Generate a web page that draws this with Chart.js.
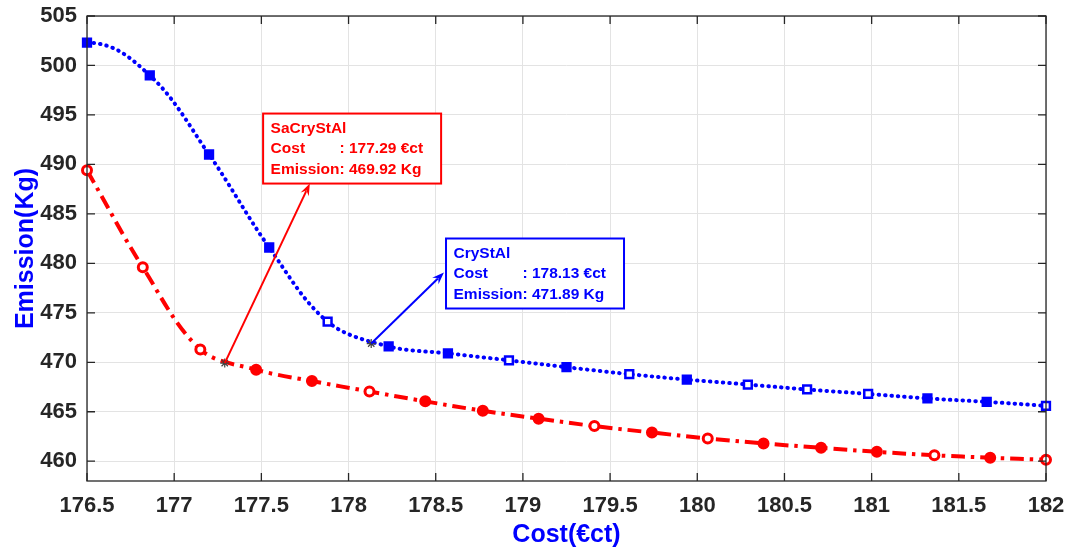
<!DOCTYPE html>
<html>
<head>
<meta charset="utf-8">
<script src="https://cdn.jsdelivr.net/npm/chart.js@4.4.1/dist/chart.umd.min.js"></script>
<style>
  body { margin: 0; background: #fff; }
  #wrap { width: 1081px; height: 553px; }
</style>
</head>
<body>
<div id="wrap"><canvas id="myChart" width="1081" height="553"></canvas></div>
<script>
// Graduations des axes
const costTicks = [176.5, 177, 177.5, 178, 178.5, 179, 179.5, 180, 180.5, 181, 181.5, 182];
const emissionTicks = [460, 465, 470, 475, 480, 485, 490, 495, 500, 505];

// Courbe CryStAl (bleue, carrés)
const crystalCost = [176.5, 176.86, 177.2, 177.545, 177.88, 178.23, 178.57, 178.92, 179.25, 179.61, 179.94, 180.29, 180.63, 180.98, 181.32, 181.66, 182];
const crystalEmission = [502.3, 499.0, 491.0, 481.6, 474.1, 471.6, 470.9, 470.2, 469.5, 468.8, 468.25, 467.75, 467.25, 466.8, 466.35, 466.0, 465.6];

// Courbe SaCryStAl (rouge, cercles)
const sacrystalCost = [176.5, 176.82, 177.15, 177.47, 177.79, 178.12, 178.44, 178.77, 179.09, 179.41, 179.74, 180.06, 180.38, 180.71, 181.03, 181.36, 181.68, 182];
const sacrystalEmission = [489.4, 479.6, 471.3, 469.25, 468.1, 467.05, 466.05, 465.1, 464.3, 463.55, 462.9, 462.3, 461.8, 461.35, 460.95, 460.6, 460.35, 460.15];

// Points repérés (data tips)
const tipNames = ['SaCryStAl', 'CryStAl'];
const tipCost = [177.29, 178.13];
const tipEmission = [469.92, 471.89];

// Marqueurs qui apparaissent creux sur la figure
const blueHollow = [4, 7, 9, 11, 12, 13, 16];
const redHollow = [0, 1, 2, 5, 9, 11, 15, 17];

const BLEU = '#0000ff';
const ROUGE = '#ff0000';
const FONT = 'Liberation Sans, Arial, sans-serif';

// Bulles d'annotation : coin haut-gauche et pointe de flèche en unités des axes
const bulles = [
  { couleur: ROUGE, boite: [177.51, 495.14], pointe: [177.778, 488.07] },
  { couleur: BLEU, boite: [178.559, 482.51], pointe: [178.547, 479.07] }
];

function points(xs, ys) {
  return xs.map((x, i) => ({ x: x, y: ys[i] }));
}

function fleche(ctx, x0, y0, x1, y1) {
  const a = Math.atan2(y1 - y0, x1 - x0);
  const c = Math.cos(a), s = Math.sin(a);
  const L = 12, W = 4.5;
  ctx.beginPath();
  ctx.moveTo(x0, y0);
  ctx.lineTo(x1 - L * 0.7 * c, y1 - L * 0.7 * s);
  ctx.stroke();
  ctx.beginPath();
  ctx.moveTo(x1, y1);
  ctx.lineTo(x1 - L * c + W * s, y1 - L * s - W * c);
  ctx.lineTo(x1 - L * 0.65 * c, y1 - L * 0.65 * s);
  ctx.lineTo(x1 - L * c - W * s, y1 - L * s + W * c);
  ctx.closePath();
  ctx.fill();
}

// Départ horizontal de la courbe bleue (comme sur la figure)
const tangente = {
  id: 'tangente',
  beforeDatasetDraw(chart, args) {
    if (args.index !== 1) return;
    const meta = args.meta;
    meta.dataset.updateControlPoints(chart.chartArea, 'x');
    const p0 = meta.data[0], p1 = meta.data[1];
    p0.cp2x = p0.x + (p1.x - p0.x) * 0.45;
    p0.cp2y = p0.y;
  }
};

const cadre = {
  id: 'cadre',
  afterDatasetsDraw(chart) {
    const { ctx, chartArea: a, scales: { x, y } } = chart;
    ctx.save();

    // Cadre et graduations intérieures (style MATLAB)
    ctx.strokeStyle = '#262626';
    ctx.lineWidth = 1.3;
    ctx.beginPath();
    costTicks.forEach(v => {
      const px = x.getPixelForValue(v);
      ctx.moveTo(px, a.bottom); ctx.lineTo(px, a.bottom - 8);
      ctx.moveTo(px, a.top); ctx.lineTo(px, a.top + 8);
    });
    emissionTicks.forEach(v => {
      const py = y.getPixelForValue(v);
      ctx.moveTo(a.left, py); ctx.lineTo(a.left + 8, py);
      ctx.moveTo(a.right, py); ctx.lineTo(a.right - 8, py);
    });
    ctx.stroke();
    ctx.strokeRect(a.left, a.top, a.right - a.left, a.bottom - a.top);

    // Annotations
    bulles.forEach((b, i) => {
      const bx = x.getPixelForValue(b.boite[0]);
      const by = y.getPixelForValue(b.boite[1]);
      const tx = x.getPixelForValue(b.pointe[0]);
      const ty = y.getPixelForValue(b.pointe[1]);
      const sx = x.getPixelForValue(tipCost[i]);
      const sy = y.getPixelForValue(tipEmission[i]);

      ctx.strokeStyle = b.couleur;
      ctx.fillStyle = b.couleur;
      ctx.lineWidth = 2;
      fleche(ctx, sx, sy, tx, ty);

      ctx.fillStyle = '#fff';
      ctx.fillRect(bx, by, 178, 70);
      ctx.strokeRect(bx, by, 178, 70);

      ctx.fillStyle = b.couleur;
      ctx.font = 'bold 15.5px ' + FONT;
      ctx.textAlign = 'left';
      ctx.textBaseline = 'middle';
      const tx0 = bx + 7.5;
      const colX = tx0 + ctx.measureText('Emission').width;
      ctx.fillText(tipNames[i], tx0, by + 15.5);
      ctx.fillText('Cost', tx0, by + 35.5);
      ctx.fillText(': ' + tipCost[i].toFixed(2) + ' €ct', colX, by + 35.5);
      ctx.fillText('Emission', tx0, by + 56);
      ctx.fillText(': ' + tipEmission[i].toFixed(2) + ' Kg', colX, by + 56);
    });
    ctx.restore();
  }
};

const tickFont = { family: FONT, size: 22, weight: 'bold' };
const titleFont = { family: FONT, size: 25, weight: 'bold' };

const ctx = document.getElementById('myChart').getContext('2d');
const myChart = new Chart(ctx, {
  type: 'scatter',
  data: {
    datasets: [{
      label: 'Data tips',
      data: points(tipCost, tipEmission),
      pointStyle: 'star',
      pointRadius: 4.5,
      pointBorderWidth: 1.2,
      pointBorderColor: '#404040',
      showLine: false
    }, {
      label: 'CryStAl',
      data: points(crystalCost, crystalEmission),
      clip: false,
      showLine: true,
      borderColor: BLEU,
      borderWidth: 4,
      borderDash: [0.5, 6],
      borderCapStyle: 'round',
      tension: 0.35,
      pointStyle: 'rect',
      pointRadius: 5.5,
      pointBorderWidth: 2.5,
      pointBorderColor: BLEU,
      pointBackgroundColor: crystalCost.map((_, i) => blueHollow.includes(i) ? '#fff' : BLEU)
    }, {
      label: 'SaCryStAl',
      data: points(sacrystalCost, sacrystalEmission),
      clip: false,
      showLine: true,
      borderColor: ROUGE,
      borderWidth: 4,
      borderDash: [14, 6, 3.5, 6],
      tension: 0.35,
      pointStyle: 'circle',
      pointRadius: 4.5,
      pointBorderWidth: 3,
      pointBorderColor: ROUGE,
      pointBackgroundColor: sacrystalCost.map((_, i) => redHollow.includes(i) ? '#fff' : ROUGE)
    }]
  },
  options: {
    responsive: false,
    animation: false,
    devicePixelRatio: 1,
    layout: { padding: { top: 16, right: 35, left: 0, bottom: 0 } },
    plugins: {
      legend: { display: false },
      tooltip: { enabled: false }
    },
    scales: {
      x: {
        type: 'linear',
        min: 176.5,
        max: 182,
        afterBuildTicks: s => { s.ticks = costTicks.map(v => ({ value: v })); },
        afterFit: s => { s.height = 72; s.paddingLeft = 0; s.paddingRight = 0; },
        grid: { color: '#e3e3e3', drawTicks: false },
        border: { display: false },
        ticks: {
          color: '#262626',
          font: tickFont,
          padding: 12,
          maxRotation: 0,
          autoSkip: false,
          callback: v => String(v)
        },
        title: {
          display: true,
          text: 'Cost(€ct)',
          color: BLEU,
          font: titleFont,
          padding: { top: 0, bottom: 3 }
        }
      },
      y: {
        type: 'linear',
        min: 458,
        max: 505,
        afterBuildTicks: s => { s.ticks = emissionTicks.map(v => ({ value: v })); },
        afterFit: s => { s.width = 87; s.paddingTop = 0; s.paddingBottom = 0; },
        grid: { color: '#e3e3e3', drawTicks: false },
        border: { display: false },
        ticks: {
          color: '#262626',
          font: tickFont,
          padding: 10,
          autoSkip: false,
          callback: v => String(v)
        },
        title: {
          display: true,
          text: 'Emission(Kg)',
          color: BLEU,
          font: titleFont,
          padding: { top: 11, bottom: 0 }
        }
      }
    }
  },
  plugins: [tangente, cadre]
});
</script>
</body>
</html>
